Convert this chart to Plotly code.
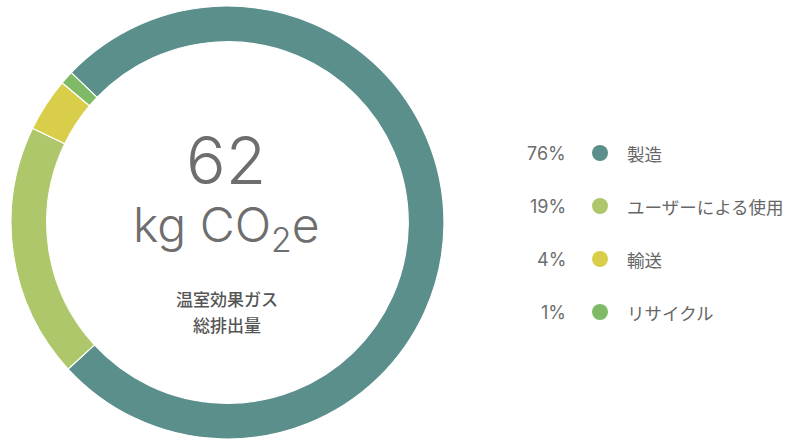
import plotly.graph_objects as go

categories = ["製造", "ユーザーによる使用", "輸送", "リサイクル"]
shares = [76, 19, 4, 1]
pct_labels = ["76%", "19%", "4%", "1%"]
colors = ["#5b8f8b", "#aec76b", "#d9ce4a", "#7fbb66"]
total_value = "62"
unit_text = "kg CO<sub>2</sub>e"
caption_lines = ["温室効果ガス", "総排出量"]

W, H = 787, 439
font_family = "Inter, 'Noto Sans CJK JP', sans-serif"
jp_family = "'Noto Sans CJK JP', sans-serif"

fig = go.Figure()
fig.add_trace(go.Pie(
    values=shares, labels=categories, marker=dict(colors=colors, line=dict(color="white", width=1.2)),
    hole=0.835, sort=False, direction="clockwise", rotation=-46.2,
    textinfo="none", hoverinfo="label+percent", showlegend=False,
    domain=dict(x=[11 / W, 444 / W], y=[0, 1 - 6 / H]),
))

legend_y = [153, 206, 259, 312]
fig.add_trace(go.Scatter(
    x=[600] * len(categories), y=legend_y, mode="markers",
    marker=dict(size=16, color=colors), showlegend=False, hoverinfo="skip",
    xaxis="x", yaxis="y",
))

fig.update_layout(
    width=W, height=H, margin=dict(l=0, r=0, t=0, b=0),
    paper_bgcolor="white", plot_bgcolor="rgba(0,0,0,0)",
    xaxis=dict(range=[0, W], visible=False, fixedrange=True),
    yaxis=dict(range=[H, 0], visible=False, fixedrange=True),
    font=dict(family=font_family),
)


def a(x, y, text, size, color, family, xanchor="center", weight="normal", **kw):
    return dict(x=x / W, y=1 - y / H, xref="paper", yref="paper", text=text, showarrow=False,
                xanchor=xanchor, yanchor="middle",
                font=dict(size=size, color=color, family=family, weight=weight), **kw)


ann = [
    a(226, 160, total_value, 66, "#6e6e6e", font_family, weight=300),
    a(226, 227, unit_text, 48, "#6e6e6e", font_family, weight=300),
    a(227, 298, caption_lines[0], 17, "#555555", jp_family, weight=500),
    a(227, 324, caption_lines[1], 17, "#555555", jp_family, weight=500),
]
for i, cat in enumerate(categories):
    ann.append(a(568, legend_y[i], pct_labels[i], 18, "#6e6e6e", font_family, xanchor="right"))
    ann.append(a(625, legend_y[i], cat, 17.5, "#666666", jp_family, xanchor="left"))
fig.update_layout(annotations=ann)

fig.write_html("out.html")
